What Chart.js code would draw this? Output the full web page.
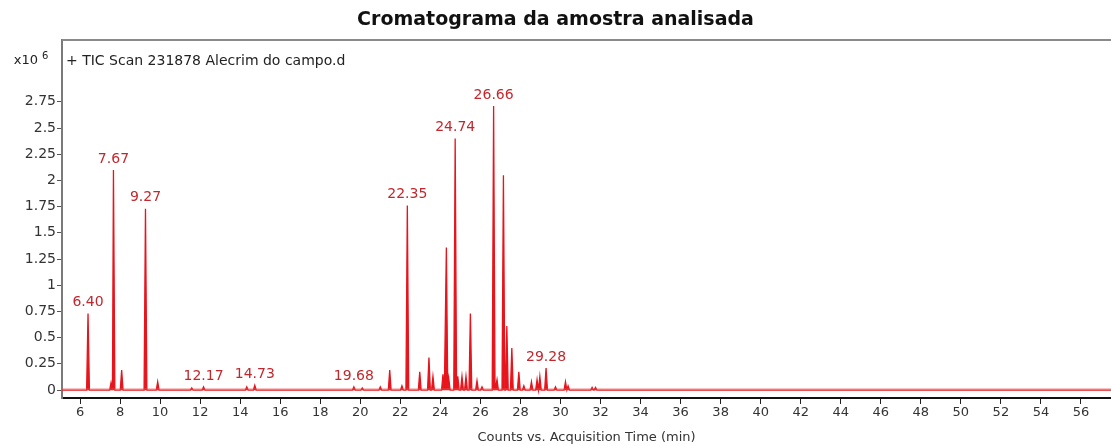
<!DOCTYPE html>
<html lang="pt">
<head>
    <meta charset="UTF-8">
    <title>Cromatograma da amostra analisada</title>
    <script src="https://cdn.jsdelivr.net/npm/chart.js"></script>
    <style>
        body { margin: 0; background: #fff; }
        #wrap { width: 1111px; height: 446px; }
    </style>
</head>
<body>
    <div id="wrap">
        <canvas id="tic" width="1111" height="446"></canvas>
    </div>

    <script>
        // retention times (min) and heights (x10^6 counts)
        const peakTimes = [6.40, 7.55, 7.67, 8.08, 9.27, 9.88, 11.58, 12.17, 14.33, 14.73,
            19.68, 20.10, 21.00, 21.47, 22.08, 22.35, 22.97, 23.43, 23.63, 24.13,
            24.30, 24.42, 24.74, 24.87, 25.08, 25.28, 25.50, 25.83, 26.08, 26.66,
            26.83, 27.15, 27.32, 27.57, 27.92, 28.17, 28.55, 28.83, 28.97, 29.28,
            29.75, 30.25, 30.38, 31.58, 31.75];
        const peakHeights = [0.73, 0.07, 2.10, 0.19, 1.73, 0.08, 0.02, 0.03, 0.03, 0.045,
            0.03, 0.02, 0.03, 0.19, 0.04, 1.76, 0.175, 0.31, 0.13, 0.15,
            1.36, 0.11, 2.40, 0.13, 0.13, 0.13, 0.73, 0.09, 0.03, 2.71,
            0.10, 2.05, 0.61, 0.40, 0.175, 0.04, 0.08, 0.10, 0.13, 0.21,
            0.03, 0.08, 0.04, 0.025, 0.025];

        // peaks that carry a retention time label
        const labelTimes = [6.40, 7.67, 9.27, 12.17, 14.73, 19.68, 22.35, 24.74, 26.66, 29.28];

        const xTicks = [6, 8, 10, 12, 14, 16, 18, 20, 22, 24, 26, 28, 30, 32, 34, 36, 38, 40,
            42, 44, 46, 48, 50, 52, 54, 56];
        const yTicks = [0, 0.25, 0.5, 0.75, 1, 1.25, 1.5, 1.75, 2, 2.25, 2.5, 2.75];

        const xMin = 5.1, xMax = 57.5;
        const yMin = -0.076, yMax = 3.34;
        const halfWidth = 0.07;

        // each peak becomes a narrow triangle on the baseline
        const tracePts = [{ x: xMin, y: 0 }];
        peakTimes.forEach((t, i) => {
            tracePts.push({ x: t - halfWidth, y: 0 });
            tracePts.push({ x: t, y: peakHeights[i] });
            tracePts.push({ x: t + halfWidth, y: 0 });
        });
        tracePts.push({ x: xMax, y: 0 });

        const FONT = 'DejaVu Sans';
        const red = '#e8141c';

        const extrasPlugin = {
            id: 'extras',
            afterDraw(chart) {
                const { ctx, chartArea } = chart;
                const xs = chart.scales.x, ys = chart.scales.y;
                ctx.save();
                // frame top
                ctx.strokeStyle = '#8a8a8a';
                ctx.lineWidth = 2;
                ctx.beginPath();
                ctx.moveTo(chartArea.left, chartArea.top);
                ctx.lineTo(chartArea.right, chartArea.top);
                ctx.stroke();

                // peak labels
                ctx.fillStyle = '#c0282e';
                ctx.font = '14px "' + FONT + '"';
                ctx.textAlign = 'center';
                ctx.textBaseline = 'bottom';
                labelTimes.forEach(t => {
                    const h = peakHeights[peakTimes.indexOf(t)];
                    ctx.fillText(t.toFixed(2), xs.getPixelForValue(t), ys.getPixelForValue(h) - 4);
                });

                // y multiplier and trace name
                ctx.fillStyle = '#222';
                ctx.textBaseline = 'middle';
                ctx.textAlign = 'right';
                ctx.font = '13px "' + FONT + '"';
                ctx.fillText('x10', 38, 61);
                ctx.textAlign = 'left';
                ctx.font = '10px "' + FONT + '"';
                ctx.fillText('6', 42, 56);
                ctx.font = '14px "' + FONT + '"';
                ctx.fillText('+ TIC Scan 231878 Alecrim do campo.d', 66, 61);
                ctx.restore();
            }
        };

        new Chart(document.getElementById('tic'), {
            type: 'line',
            data: {
                datasets: [
                    {
                        label: 'baseline',
                        data: [{ x: xMin, y: 0.006 }, { x: xMax, y: 0.006 }],
                        borderColor: 'rgba(225,90,90,0.35)',
                        borderWidth: 3,
                        pointRadius: 0
                    },
                    {
                        label: 'TIC',
                        data: tracePts,
                        borderColor: red,
                        backgroundColor: red,
                        borderWidth: 1.3,
                        pointRadius: 0,
                        tension: 0,
                        fill: 'origin'
                    }
                ]
            },
            options: {
                responsive: false,
                animation: false,
                devicePixelRatio: 1,
                layout: { padding: 0 },
                plugins: {
                    legend: { display: false },
                    tooltip: { enabled: false },
                    title: {
                        display: true,
                        text: 'Cromatograma da amostra analisada',
                        color: '#111',
                        font: { family: FONT, size: 19, weight: 'bold' },
                        padding: { top: 9, bottom: 8.2 }
                    }
                },
                scales: {
                    x: {
                        type: 'linear',
                        min: xMin,
                        max: xMax,
                        afterBuildTicks: s => { s.ticks = xTicks.map(v => ({ value: v })); },
                        afterFit: s => { s.height = 48; },
                        ticks: {
                            color: '#333',
                            font: { family: FONT, size: 13 },
                            padding: 1,
                            maxRotation: 0,
                            autoSkip: false,
                            callback: v => String(v)
                        },
                        grid: { drawOnChartArea: false, tickLength: 6, tickColor: '#222', tickWidth: 1 },
                        border: { color: '#111', width: 2 },
                        title: {
                            display: true,
                            text: 'Counts vs. Acquisition Time (min)',
                            color: '#333',
                            font: { family: FONT, size: 13 },
                            padding: { top: 0, bottom: 1 }
                        }
                    },
                    y: {
                        min: yMin,
                        max: yMax,
                        afterBuildTicks: s => { s.ticks = yTicks.map(v => ({ value: v })); },
                        afterFit: s => { s.width = 62; },
                        ticks: {
                            color: '#333',
                            font: { family: FONT, size: 14 },
                            padding: 1,
                            autoSkip: false,
                            callback: v => String(v)
                        },
                        grid: { drawOnChartArea: false, tickLength: 5, tickColor: '#555', tickWidth: 1 },
                        border: { color: '#7a7a7a', width: 2 }
                    }
                }
            },
            plugins: [extrasPlugin]
        });
    </script>
</body>
</html>
